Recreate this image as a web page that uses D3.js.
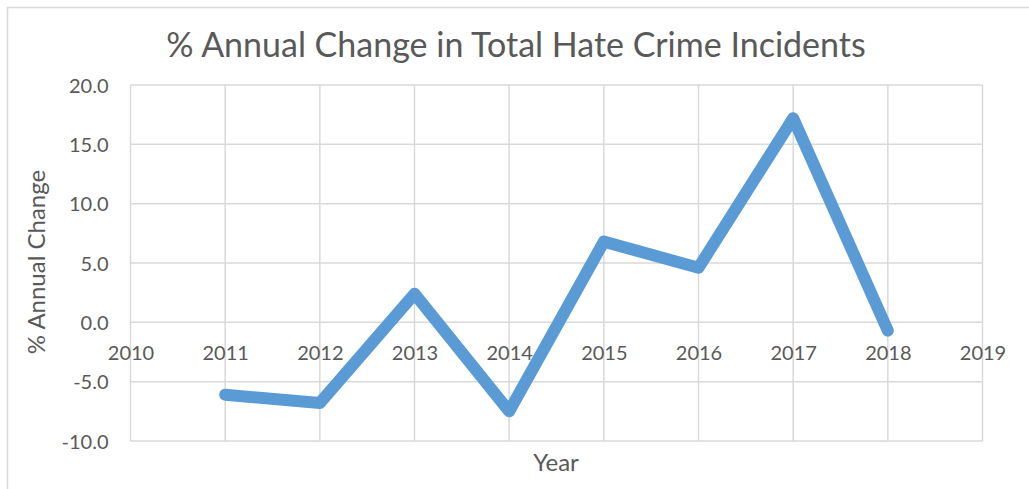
<!DOCTYPE html>
<html>
<head>
<meta charset="utf-8">
<script src="https://cdn.jsdelivr.net/npm/d3@7"></script>
<style>
  body { margin: 0; background: #fff; }
  svg text { font-family: Lato, "Open Sans", sans-serif; fill: #595959; }
</style>
</head>
<body>
<svg id="chart" width="1029" height="489"></svg>
<script>
// Data
const years = [2011, 2012, 2013, 2014, 2015, 2016, 2017, 2018];
const pctChange = [-6.1, -6.8, 2.4, -7.5, 6.8, 4.6, 17.2, -0.7];
const xTicks = [2010, 2011, 2012, 2013, 2014, 2015, 2016, 2017, 2018, 2019];
const yTicks = [-10, -5, 0, 5, 10, 15, 20];

const svg = d3.select('#chart');
const W = 1029, H = 489;

// Plot area
const plotLeft = 130.5, plotRight = 982.5, plotTop = 85, plotBottom = 441;

const x = d3.scaleLinear().domain([2010, 2019]).range([plotLeft, plotRight]);
const y = d3.scaleLinear().domain([-10, 20]).range([plotBottom, plotTop]);

// Excel style: plain hyphen for negatives
const fmtY = d => d3.format('.1f')(d).replace('\u2212', '-');

// Outer chart border (runs off the right/bottom of the picture)
svg.append('rect')
  .attr('x', 7.5).attr('y', 7.5)
  .attr('width', W + 20).attr('height', H + 20)
  .attr('fill', 'none')
  .attr('stroke', '#d9d9d9')
  .attr('stroke-width', 1.5);

// Gridlines
const grid = svg.append('g').attr('stroke', '#d9d9d9').attr('stroke-width', 1.5);
grid.selectAll('line.h').data(yTicks).join('line')
  .attr('class', 'h')
  .attr('x1', plotLeft).attr('x2', plotRight)
  .attr('y1', d => y(d)).attr('y2', d => y(d));
grid.selectAll('line.v').data(xTicks).join('line')
  .attr('class', 'v')
  .attr('y1', plotTop).attr('y2', plotBottom)
  .attr('x1', d => x(d)).attr('x2', d => x(d));

// Y axis labels
const yAxis = svg.append('g')
  .attr('transform', `translate(${plotLeft - 22},0)`)
  .call(d3.axisLeft(y).tickValues(yTicks).tickFormat(fmtY).tickSize(0).tickPadding(0));
yAxis.select('.domain').remove();
yAxis.selectAll('text')
  .style('font-size', '20px')
  .style('font-family', 'Lato, sans-serif')
  .attr('fill', '#595959')
  .attr('dy', '0.35em');

// X axis labels, sitting under the zero line
const xAxis = svg.append('g')
  .attr('transform', `translate(0,${y(0) + 31})`)
  .call(d3.axisBottom(x).tickValues(xTicks).tickFormat(d3.format('d')).tickSize(0).tickPadding(0));
xAxis.select('.domain').remove();
xAxis.selectAll('text')
  .style('font-size', '20px')
  .style('font-family', 'Lato, sans-serif')
  .attr('fill', '#595959')
  .attr('dy', '0.35em');

// Series line
const line = d3.line()
  .x((d, i) => x(years[i]))
  .y(d => y(d));
svg.append('path')
  .datum(pctChange)
  .attr('d', line)
  .attr('fill', 'none')
  .attr('stroke', '#5b9bd5')
  .attr('stroke-width', 12)
  .attr('stroke-linejoin', 'round')
  .attr('stroke-linecap', 'round');

// Titles
svg.append('text')
  .attr('x', 516).attr('y', 57)
  .attr('text-anchor', 'middle')
  .style('font-size', '34px')
  .text('% Annual Change in Total Hate Crime Incidents');

svg.append('text')
  .attr('transform', `translate(45,${(172 + 352) / 2}) rotate(-90)`)
  .attr('text-anchor', 'middle')
  .style('font-size', '24px')
  .text('% Annual Change');

svg.append('text')
  .attr('x', 556).attr('y', 471)
  .attr('text-anchor', 'middle')
  .style('font-size', '24px')
  .text('Year');
</script>
</body>
</html>
